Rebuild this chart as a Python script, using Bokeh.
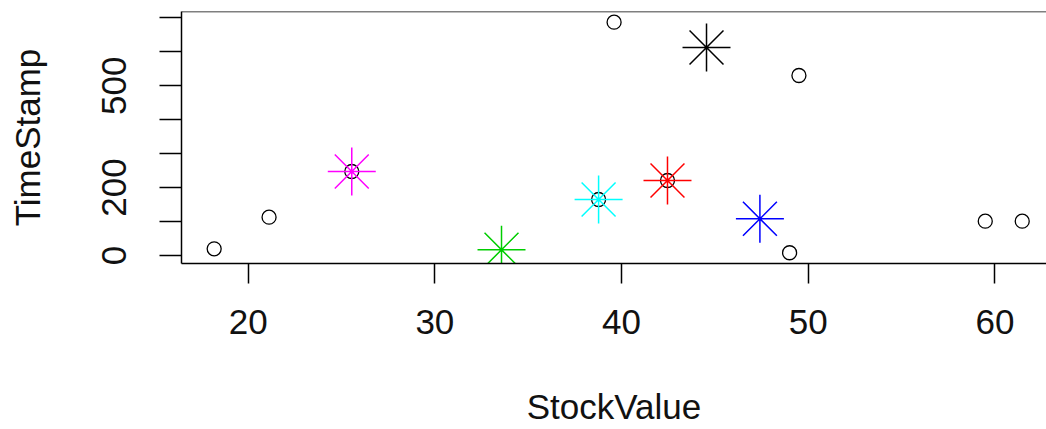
from bokeh.plotting import figure
from bokeh.models import FixedTicker, Span, Range1d
from bokeh.embed import file_html
from bokeh.resources import INLINE

# observations
stock_value = [18.18, 21.12, 25.55, 39.60, 49.50, 38.77, 42.46, 49.00, 59.48, 61.46]
time_stamp = [19.7, 112.8, 247.3, 687.0, 530.0, 164.9, 220.8, 8.0, 101.0, 101.0]

# cluster centres
center_x = [44.55, 42.46, 33.57, 47.41, 38.77, 25.55]
center_y = [612.5, 220.8, 16.8, 108.0, 164.9, 247.3]
center_colors = ["black", "#FF0000", "#00CD00", "#0000FF", "#00FFFF", "#FF00FF"]

x_ticks = [20, 30, 40, 50, 60]
y_ticks = [0, 100, 200, 300, 400, 500, 600, 700]
y_labels = {0: "0", 200: "200", 500: "500"}

FONT = "Liberation Sans"

p = figure(width=1046, height=429, output_backend="svg", toolbar_location=None,
           x_range=Range1d(16.43, 62.76), y_range=Range1d(-23.6, 718.5),
           min_border_left=181, min_border_right=0, min_border_top=11,
           min_border_bottom=166, background_fill_color="white",
           border_fill_color="white")
p.outline_line_color = None
p.grid.visible = False

# points and centres
p.scatter(stock_value, time_stamp, marker="circle", size=14, fill_color=None,
          line_color="black", line_width=1.3)
p.scatter(center_x, center_y, marker="asterisk", size=48, line_color=center_colors,
          line_width=1.5)

# top edge of the box
p.add_layout(Span(location=718.5, dimension="width", line_color="black", line_width=1.5))

for ax in (p.xaxis[0], p.yaxis[0]):
    ax.axis_line_width = 1.5
    ax.major_tick_line_width = 1.5
    ax.minor_tick_line_color = None
    ax.major_tick_in = 0
    ax.major_label_text_font = FONT
    ax.major_label_text_font_size = "35px"
    ax.major_label_text_color = "#111111"
    ax.axis_label_text_font = FONT
    ax.axis_label_text_font_size = "35px"
    ax.axis_label_text_font_style = "normal"
    ax.axis_label_text_color = "#111111"

xa = p.xaxis[0]
xa.ticker = FixedTicker(ticks=x_ticks)
xa.major_tick_out = 20
xa.major_label_standoff = 26
xa.axis_label = "StockValue"
xa.axis_label_standoff = 50

ya = p.yaxis[0]
ya.ticker = FixedTicker(ticks=y_ticks)
ya.major_label_overrides = {t: y_labels.get(t, "") for t in y_ticks}
ya.major_label_orientation = "vertical"
ya.major_tick_out = 22
ya.major_label_standoff = 33
ya.axis_label = "TimeStamp"
ya.axis_label_standoff = 53

open("out.html", "w").write(file_html(p, INLINE))
